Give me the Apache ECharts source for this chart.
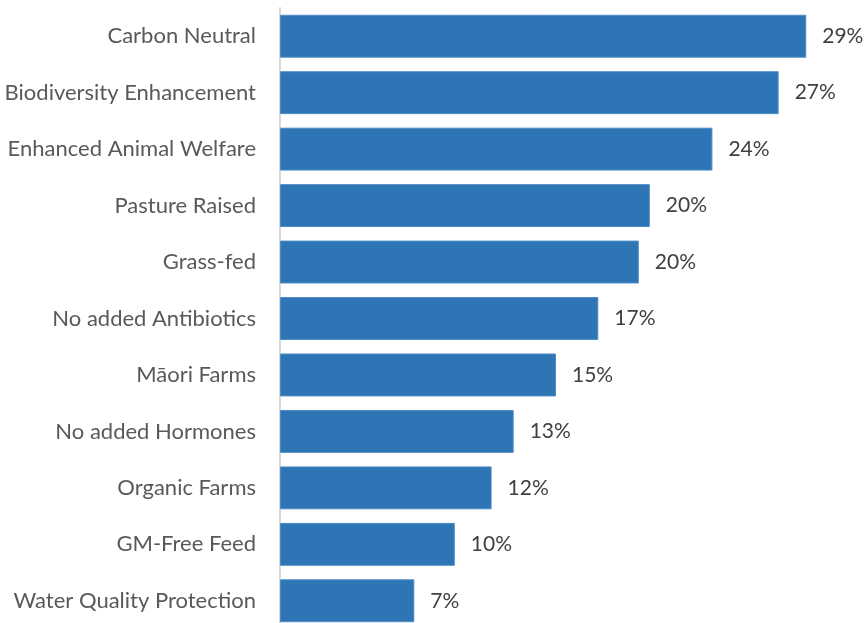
<!DOCTYPE html>
<html>
<head>
<meta charset="utf-8">
<script src="https://cdn.jsdelivr.net/npm/echarts@6/dist/echarts.min.js"></script>
<style>
  html, body { margin: 0; padding: 0; background: #ffffff; }
  #chart { width: 865px; height: 623px; }
</style>
</head>
<body>
<div id="chart"></div>
<script>
// Share of respondents valuing each product attribute (%)
const categories = [
  'Carbon Neutral',
  'Biodiversity Enhancement',
  'Enhanced Animal Welfare',
  'Pasture Raised',
  'Grass-fed',
  'No added Antibiotics',
  'Māori Farms',
  'No added Hormones',
  'Organic Farms',
  'GM-Free Feed',
  'Water Quality Protection'
];
const shares = [28.6, 27.1, 23.5, 20.1, 19.5, 17.3, 15.0, 12.7, 11.5, 9.5, 7.3];

const chart = echarts.init(document.getElementById('chart'), null, { renderer: 'canvas' });
const font = 'Lato, "Open Sans", sans-serif';

chart.setOption({
  animation: false,
  grid: {
    left: 280, right: 33, top: 8, height: 621,
    containLabel: false, outerBoundsMode: 'none'
  },
  xAxis: {
    type: 'value', min: 0, max: 30,
    show: false
  },
  yAxis: {
    type: 'category',
    data: categories,
    inverse: true,
    axisLine: { show: true, lineStyle: { color: '#d9d9d9', width: 2 } },
    axisTick: { show: false },
    axisLabel: { color: '#595959', fontSize: 22, fontFamily: font, margin: 24 }
  },
  series: [{
    type: 'bar',
    data: shares,
    barWidth: '76%',
    itemStyle: { color: '#2e75b6', borderColor: '#4f8cc6', borderWidth: 1 },
    label: {
      show: true,
      position: 'right',
      distance: 16,
      color: '#404040',
      fontSize: 21,
      fontFamily: font,
      formatter: p => Math.round(p.value) + '%'
    }
  }]
});
</script>
</body>
</html>
